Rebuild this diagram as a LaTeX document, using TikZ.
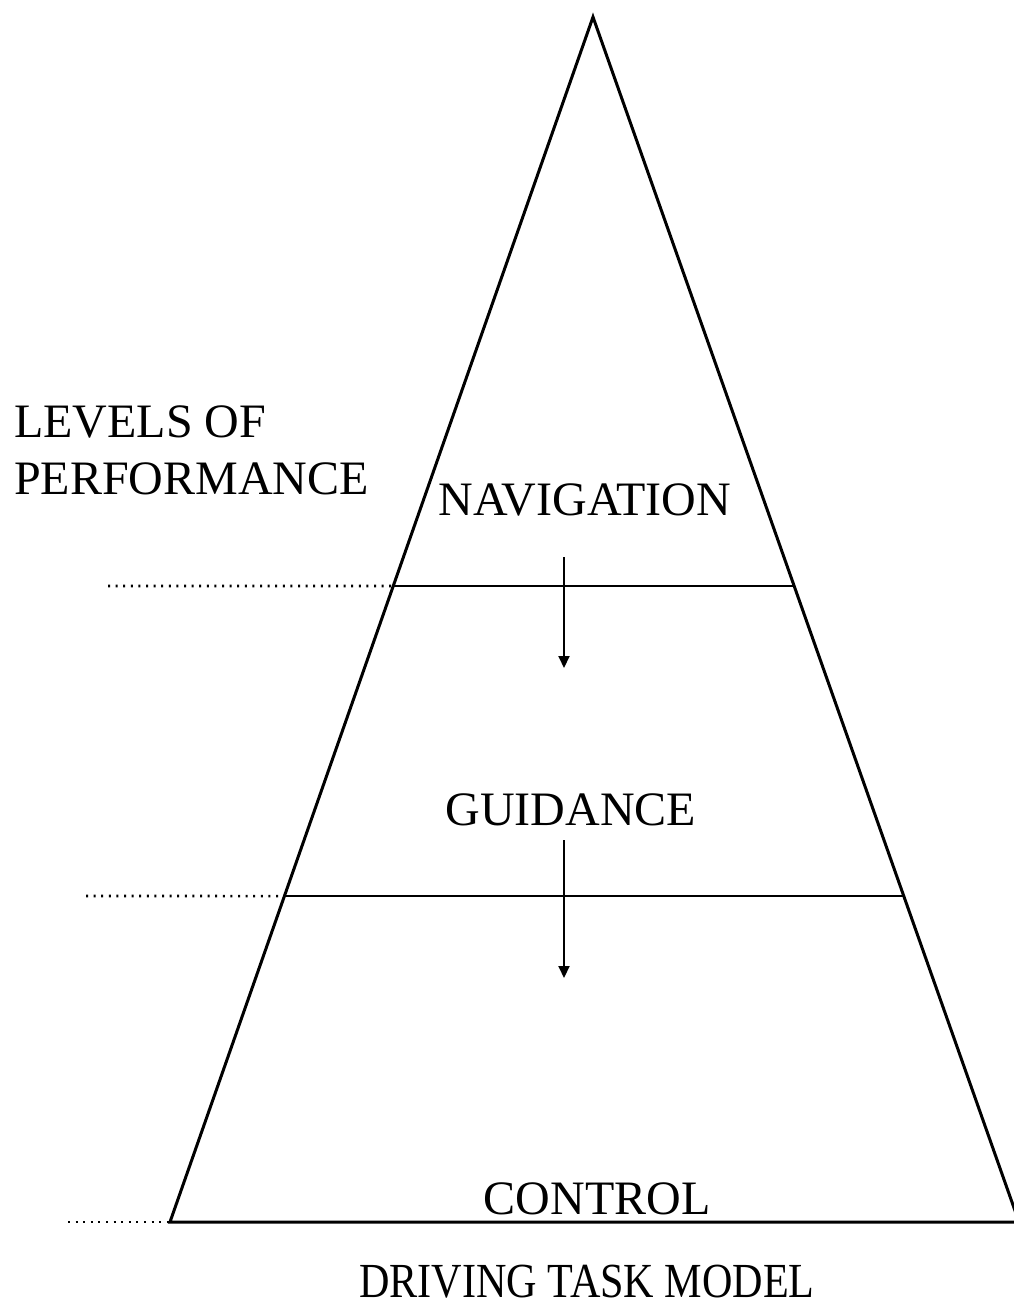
\documentclass[tikz,border=0pt]{standalone}
\usepackage{fontspec}
\setmainfont{Liberation Serif}
\usepackage{tikz}
\usetikzlibrary{arrows.meta,calc,positioning}
\tikzstyle{side} = [line width=3pt, line join=miter]
\tikzstyle{levelline} = [line width=2.8pt]
\tikzstyle{dotline} = [line width=2.6pt, dash pattern=on 2pt off 5.6pt]
\tikzstyle{downarrow} = [line width=2pt, -{Triangle[length=12pt,width=11pt]}]
\tikzstyle{levelname} = [inner sep=0pt, anchor=base, font=\fontsize{48}{57}\selectfont]

\begin{document}
\begin{tikzpicture}[x=1pt, y=-1pt]
    \useasboundingbox (0,0) rectangle (1014,1306);

    % Triangle corners
    \coordinate (apex) at (593,17);
    \coordinate (bl) at (170,1222);
    \coordinate (br) at (1019,1222);
    \draw[side] (br) -- (apex) -- (bl) -- (br);

    % Level boundaries
    \coordinate (navl) at ($(apex)!0.4722!(bl)$);
    \coordinate (navr) at ($(apex)!0.4722!(br)$);
    \coordinate (guil) at ($(apex)!0.7295!(bl)$);
    \coordinate (guir) at ($(apex)!0.7295!(br)$);
    \draw[levelline] (navl) -- (navr);
    \draw[levelline] (guil) -- (guir);

    % Dotted leaders
    \coordinate (d1) at (108,586);
    \coordinate (d2) at (86,896);
    \coordinate (d3) at (68,1222);
    \draw[dotline] (d1) -- (navl);
    \draw[dotline] (d2) -- (guil);
    \draw[dotline] (d3) -- (bl);

    % Labels
    \node[levelname, anchor=south west, align=left] (levels) at (14,495) {LEVELS OF\\PERFORMANCE};
    \node[levelname] (nav) at (585,515) {NAVIGATION};
    \node[levelname] (guid) at (571,825) {GUIDANCE};
    \node[levelname] (ctrl) at (597,1214) {CONTROL};
    \node[levelname, font=\fontsize{49}{59}\selectfont, xscale=0.86, transform shape] (title) at (587,1297) {DRIVING TASK MODEL};

    % Arrows between levels
    \coordinate (a1s) at (564,557);
    \coordinate (a1e) at (564,668);
    \coordinate (a2s) at (564,840);
    \coordinate (a2e) at (564,978);
    \draw[downarrow] (a1s) -- (a1e);
    \draw[downarrow] (a2s) -- (a2e);
\end{tikzpicture}
\end{document}
